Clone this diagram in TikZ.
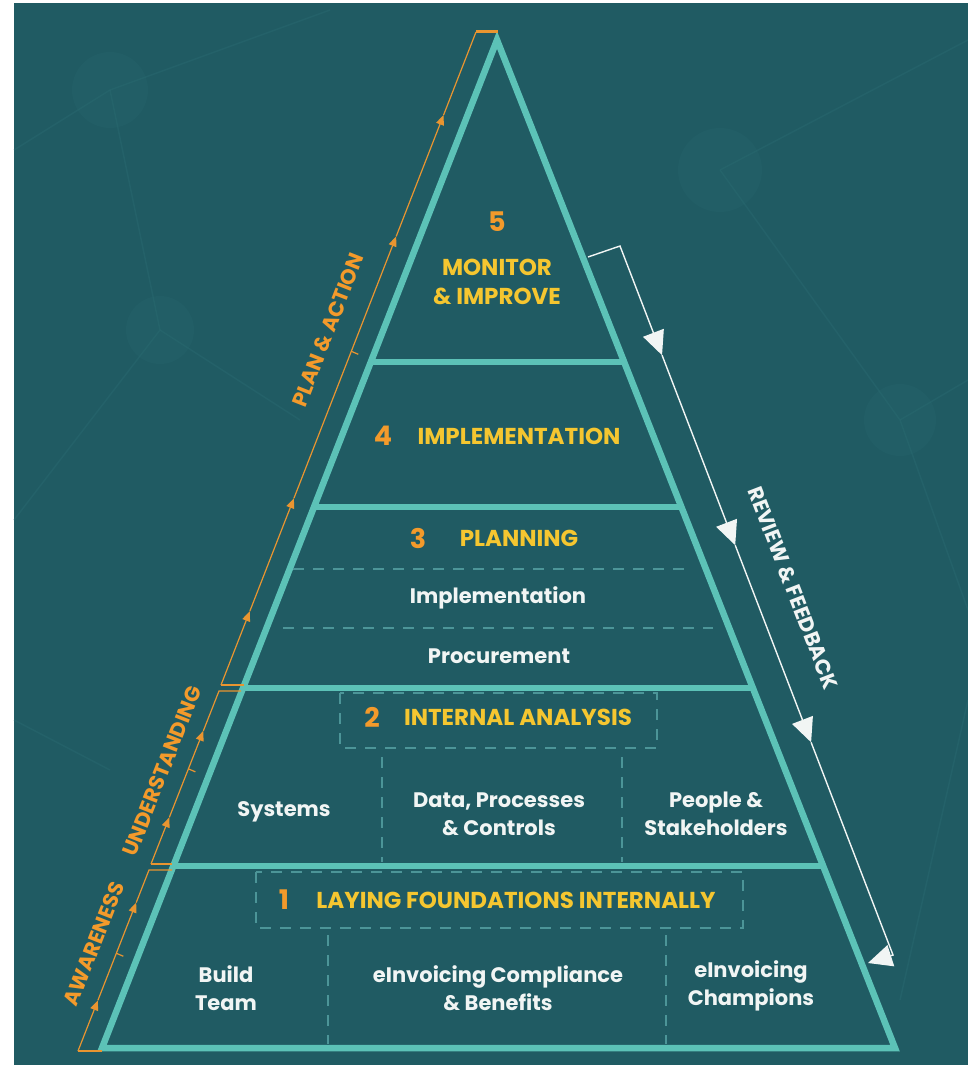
\documentclass[tikz,border=0pt]{standalone}
\usepackage{fontspec}
\setmainfont{Poppins}
\usetikzlibrary{arrows.meta,calc,positioning}

\definecolor{bgteal}{HTML}{205B63}
\definecolor{netteal}{HTML}{2A6B72}
\definecolor{edgeteal}{HTML}{5CC2B7}
\definecolor{dashteal}{HTML}{4C9598}
\definecolor{numorange}{HTML}{F39A2B}
\definecolor{titleyellow}{HTML}{F5C630}
\definecolor{lineorange}{HTML}{E99530}
\definecolor{softwhite}{HTML}{F1F5F4}

\tikzset{
  edge/.style={draw=edgeteal,line width=6.5pt,line join=miter},
  level/.style={draw=edgeteal,line width=6pt},
  divider/.style={draw=dashteal,line width=1.3pt,dash pattern=on 11pt off 9pt},
  num/.style={text=numorange,font=\fontsize{27}{30}\selectfont\bfseries},
  title/.style={text=titleyellow,font=\fontsize{23}{29}\selectfont\bfseries,align=center},
  item/.style={text=softwhite,font=\fontsize{21}{28}\selectfont\bfseries,align=center},
  sidelabel/.style={text=numorange,font=\fontsize{21}{22}\selectfont\bfseries},
  upline/.style={draw=lineorange,line width=1.2pt},
  uptip/.style={-{Triangle[length=10pt,width=8pt]}},
  backline/.style={draw=softwhite,line width=1.4pt},
  downtip/.style={-{Triangle[length=24pt,width=22pt]}},
  net/.style={draw=netteal,line width=1.5pt,opacity=0.4}
}

\begin{document}
\begin{tikzpicture}[x=1pt,y=-1pt]
\useasboundingbox (0,0) rectangle (968,1067);
\fill[white] (0,0) rectangle (968,1067);
\fill[bgteal] (14,3) rectangle (968,1065);
\draw[net] (14,150) -- (110,90) -- (330,10);
\draw[net] (110,90) -- (160,330) -- (14,520);
\draw[net] (160,330) -- (300,420);
\draw[net] (720,170) -- (968,40);
\draw[net] (720,170) -- (900,420) -- (968,610);
\draw[net] (900,420) -- (968,380);
\draw[net] (14,720) -- (110,770);
\draw[net] (968,700) -- (900,1000);
\fill[netteal,opacity=0.2] (110,90) circle (38);
\fill[netteal,opacity=0.2] (720,170) circle (42);
\fill[netteal,opacity=0.2] (160,330) circle (34);
\fill[netteal,opacity=0.2] (900,420) circle (36);

\coordinate (apex) at (497,40);
\coordinate (bl) at (102,1048);
\coordinate (br) at (895,1048);
\foreach \t/\n in {0.3194/4,0.4633/3,0.6429/2,0.8194/1}{
  \coordinate (L\n) at ($(apex)!\t!(bl)$);
  \coordinate (R\n) at ($(apex)!\t!(br)$);
  \draw[level] (L\n) -- (R\n);
}
\draw[edge] (bl) -- (apex) -- (br) -- cycle;

\draw[divider] (293,569) -- (687,569);
\draw[divider] (283,628) -- (713,628);
\draw[divider] (340,693) rectangle (657,748);
\draw[divider] (382,757) -- (382,862);
\draw[divider] (622,757) -- (622,862);
\draw[divider] (256,872) rectangle (743,928);
\draw[divider] (328,935) -- (328,1044);
\draw[divider] (666,935) -- (666,1044);

\node[num] (n5) at (497,222) {5};
\node[title] (t5) at (497,282) {MONITOR\\\& IMPROVE};
\node[num] (n4) at (383,436) {4};
\node[title] (t4) at (519,436) {IMPLEMENTATION};
\node[num] (n3) at (418,538) {3};
\node[title] (t3) at (519,538) {PLANNING};
\node[item] (impl) at (498,598) {Implementation};
\node[item] (proc) at (499,656) {Procurement};
\node[num] (n2) at (372,717) {2};
\node[title] (t2) at (518,717) {INTERNAL ANALYSIS};
\node[item] (sys) at (284,812) {Systems};
\node[item] (dpc) at (499,814) {Data, Processes\\\& Controls};
\node[item] (pst) at (716,814) {People \&\\Stakeholders};
\node[num] (n1) at (284,900) {1};
\node[title] (t1) at (516,900) {LAYING FOUNDATIONS INTERNALLY};
\node[item] (team) at (226,988) {Build\\Team};
\node[item] (comp) at (498,988) {eInvoicing Compliance\\\& Benefits};
\node[item] (champ) at (751,986) {eInvoicing\\Champions};

\coordinate (a0) at (78,1051);
\coordinate (a1) at (149,870);
\coordinate (u0) at (151,864);
\coordinate (u1) at (219,691);
\coordinate (p0) at (221,685);
\coordinate (p1) at (476,32);
\draw[upline] (102,1051) -- (a0);
\draw[upline,uptip] (a0) -- ($(a0)!0.28!(a1)$);
\draw[upline,uptip] ($(a0)!0.28!(a1)$) -- ($(a0)!0.82!(a1)$);
\draw[upline] ($(a0)!0.82!(a1)$) -- (a1) -- (172,870);
\draw[upline] ($(a0)!0.54!(a1)$) -- ++(7,3);
\draw[upline] (172,864) -- (u0);
\draw[upline,uptip] (u0) -- ($(u0)!0.27!(u1)$);
\draw[upline,uptip] ($(u0)!0.27!(u1)$) -- ($(u0)!0.77!(u1)$);
\draw[upline] ($(u0)!0.77!(u1)$) -- (u1) -- (241,691);
\draw[upline] ($(u0)!0.55!(u1)$) -- ++(7,3);
\draw[upline] (244,685) -- (p0);
\draw[upline,uptip] (p0) -- ($(p0)!0.113!(p1)$);
\draw[upline,uptip] ($(p0)!0.113!(p1)$) -- ($(p0)!0.286!(p1)$);
\draw[upline,uptip] ($(p0)!0.286!(p1)$) -- ($(p0)!0.687!(p1)$);
\draw[upline,uptip] ($(p0)!0.687!(p1)$) -- ($(p0)!0.873!(p1)$);
\draw[upline] ($(p0)!0.873!(p1)$) -- (p1);
\draw[upline] ($(p0)!0.511!(p1)$) -- ++(7,3);
\draw[lineorange,line width=3pt] (p1) -- (498,32);

\node[sidelabel,rotate=68.6] (aware) at (94,944) {AWARENESS};
\node[sidelabel,rotate=68.6] (under) at (162,771) {UNDERSTANDING};
\node[sidelabel,rotate=68.6] (plan) at (328,330) {PLAN \& ACTION};

\coordinate (r0) at (588,257);
\coordinate (r1) at (620,246);
\coordinate (r2) at (893,955);
\coordinate (r3) at (868,963);
\draw[backline,downtip] (r0) -- (r1) -- ($(r1)!0.154!(r2)$);
\draw[backline,downtip] ($(r1)!0.154!(r2)$) -- ($(r1)!0.422!(r2)$);
\draw[backline,downtip] ($(r1)!0.422!(r2)$) -- ($(r1)!0.70!(r2)$);
\draw[backline,downtip] ($(r1)!0.70!(r2)$) -- (r2) -- (r3);
\node[text=softwhite,font=\fontsize{21}{22}\selectfont\bfseries,rotate=-68.9] (review) at (793,588) {REVIEW \& FEEDBACK};
\end{tikzpicture}
\end{document}
